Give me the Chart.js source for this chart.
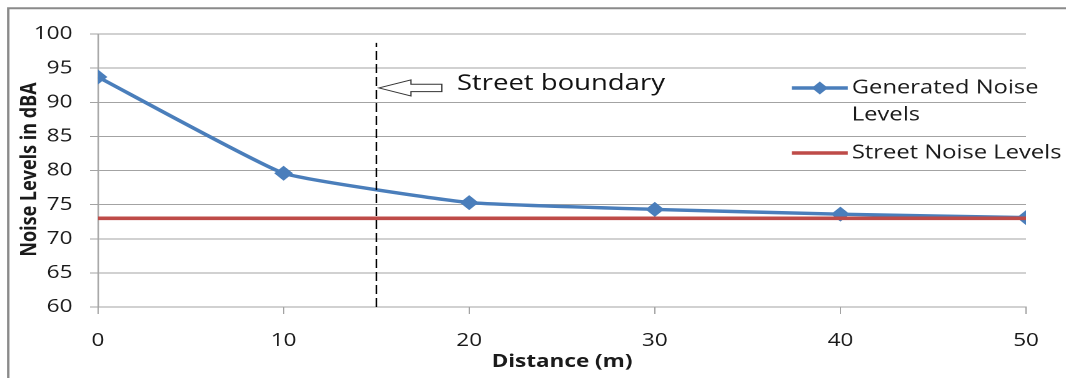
<!DOCTYPE html>
<html>
<head>
<meta charset="utf-8">
<script src="https://cdn.jsdelivr.net/npm/chart.js@4.4.1/dist/chart.umd.min.js"></script>
<style>
  html, body { margin: 0; padding: 0; background: #ffffff; overflow: hidden; }
  #wrap { width: 853px; height: 378px; transform: scaleX(1.2497); transform-origin: 0 0; }
</style>
</head>
<body>
<div id="wrap"><canvas id="noiseChart" width="853" height="378"></canvas></div>
<script>
// Distance from the source (m) and measured noise levels (dBA)
const distances = [0, 10, 20, 30, 40, 50];
const generatedNoise = [93.7, 79.6, 75.3, 74.3, 73.6, 73.1];
const streetNoise = [73, 73, 73, 73, 73, 73];

// Street boundary marker (distance and vertical extent in dBA)
const boundaryDistance = 15;
const boundarySpan = [60, 98.7];

// Axis tick labels
const xTickValues = [0, 10, 20, 30, 40, 50];
const yTickValues = [60, 65, 70, 75, 80, 85, 90, 95, 100];

const seriesNames = ['Generated Noise Levels', 'Street Noise Levels'];
const annotationText = 'Street boundary';
const xTitle = 'Distance (m)';
const yTitle = 'Noise Levels in dBA';

const BLUE = '#4A7EBB';
const RED = '#BE4B48';
const GRID = '#a3a3a3';
const TEXT = '#1a1a1a';
const FONT = "'Open Sans', 'DejaVu Sans', sans-serif";

const toPoints = (xs, ys) => xs.map((x, i) => ({ x: x, y: ys[i] }));

// Outer frame and white background
const framePlugin = {
  id: 'frame',
  beforeDraw(chart) {
    const ctx = chart.ctx;
    ctx.save();
    ctx.fillStyle = '#ffffff';
    ctx.fillRect(0, 0, chart.width, chart.height);
    ctx.strokeStyle = '#8a8a8a';
    ctx.lineWidth = 2;
    ctx.beginPath();
    ctx.moveTo(6.6, chart.height);
    ctx.lineTo(6.6, 8.3);
    ctx.lineTo(chart.width, 8.3);
    ctx.stroke();
    ctx.restore();
  }
};

// Axis titles
const titlesPlugin = {
  id: 'axisTitles',
  afterDraw(chart) {
    const ctx = chart.ctx;
    const area = chart.chartArea;
    ctx.save();
    ctx.fillStyle = TEXT;
    ctx.font = "bold 18px " + FONT;
    ctx.textAlign = 'center';
    ctx.textBaseline = 'alphabetic';
    ctx.fillText(xTitle, (area.left + area.right) / 2, 367);
    ctx.translate(29, (area.top + area.bottom) / 2 - 1);
    ctx.rotate(-Math.PI / 2);
    ctx.font = "bold 18px " + FONT;
    ctx.fillText(yTitle, 0, 0);
    ctx.restore();
  }
};

// Arrow and label pointing at the street boundary
const boundaryNotePlugin = {
  id: 'boundaryNote',
  afterDatasetsDraw(chart) {
    const ctx = chart.ctx;
    const xs = chart.scales.x, ys = chart.scales.y;
    const tipX = xs.getPixelForValue(boundaryDistance) + 2;
    const midY = ys.getPixelForValue(92.1);
    const headEnd = tipX + 25.6;
    const tailEnd = tipX + 50.4;
    ctx.save();
    ctx.fillStyle = '#ffffff';
    ctx.strokeStyle = '#333333';
    ctx.lineWidth = 1;
    ctx.beginPath();
    ctx.moveTo(tipX, midY);
    ctx.lineTo(headEnd, midY - 8);
    ctx.lineTo(headEnd, midY - 3.7);
    ctx.lineTo(tailEnd, midY - 3.7);
    ctx.lineTo(tailEnd, midY + 3.7);
    ctx.lineTo(headEnd, midY + 3.7);
    ctx.lineTo(headEnd, midY + 8);
    ctx.closePath();
    ctx.fill();
    ctx.stroke();
    ctx.fillStyle = '#111111';
    ctx.font = "22px " + FONT;
    ctx.textAlign = 'left';
    ctx.textBaseline = 'alphabetic';
    ctx.fillText(annotationText, tailEnd + 12, midY + 2);
    ctx.restore();
  }
};

// Legend drawn inside the plot, to the right
const legendPlugin = {
  id: 'sideLegend',
  afterDraw(chart) {
    const ctx = chart.ctx;
    const x0 = 633.6, x1 = 678.4, tx = 681.6;
    ctx.save();
    ctx.font = "19px " + FONT;
    ctx.fillStyle = TEXT;
    ctx.textAlign = 'left';
    ctx.textBaseline = 'middle';
    // Generated noise entry
    let y = 88;
    ctx.strokeStyle = BLUE;
    ctx.lineWidth = 3.5;
    ctx.beginPath(); ctx.moveTo(x0, y); ctx.lineTo(x1, y); ctx.stroke();
    ctx.fillStyle = BLUE;
    ctx.beginPath();
    const cx = (x0 + x1) / 2, r = 6.5;
    ctx.moveTo(cx - r, y); ctx.lineTo(cx, y - r); ctx.lineTo(cx + r, y); ctx.lineTo(cx, y + r);
    ctx.closePath(); ctx.fill();
    ctx.fillStyle = TEXT;
    ctx.fillText('Generated Noise', tx, y);
    ctx.fillText('Levels', tx, 115);
    // Street noise entry
    y = 153;
    ctx.strokeStyle = RED;
    ctx.lineWidth = 3.5;
    ctx.beginPath(); ctx.moveTo(x0, y); ctx.lineTo(x1, y); ctx.stroke();
    ctx.fillText(seriesNames[1], tx, y);
    ctx.restore();
  }
};

new Chart(document.getElementById('noiseChart'), {
  type: 'line',
  data: {
    datasets: [
      {
        label: 'Street boundary line',
        data: [{ x: boundaryDistance, y: boundarySpan[0] }, { x: boundaryDistance, y: boundarySpan[1] }],
        borderColor: '#000000',
        borderWidth: 1.1,
        borderDash: [9, 4],
        pointRadius: 0,
        order: 0
      },
      {
        label: seriesNames[1],
        data: toPoints(distances, streetNoise),
        borderColor: RED,
        borderWidth: 3.6,
        pointRadius: 0,
        order: 1
      },
      {
        label: seriesNames[0],
        data: toPoints(distances, generatedNoise),
        borderColor: BLUE,
        backgroundColor: BLUE,
        borderWidth: 3.4,
        tension: 0.12,
        pointStyle: 'rectRot',
        pointRadius: 7.5,
        pointBorderWidth: 0,
        pointBackgroundColor: BLUE,
        order: 2
      }
    ]
  },
  options: {
    responsive: false,
    animation: false,
    devicePixelRatio: 2,
    layout: { padding: { top: 34, right: 32, left: 0, bottom: 0 } },
    plugins: {
      legend: { display: false },
      tooltip: { enabled: false }
    },
    scales: {
      x: {
        type: 'linear',
        min: 0,
        max: 50,
        afterBuildTicks: (s) => { s.ticks = xTickValues.map(v => ({ value: v })); },
        afterFit: (s) => { s.height = 71; },
        grid: { drawOnChartArea: false, drawTicks: true, tickLength: 7, color: GRID, lineWidth: 1 },
        border: { display: true, color: GRID, width: 1 },
        ticks: { font: { family: FONT, size: 18 }, color: TEXT, padding: 16, maxRotation: 0 }
      },
      y: {
        min: 60,
        max: 100,
        afterBuildTicks: (s) => { s.ticks = yTickValues.map(v => ({ value: v })); },
        afterFit: (s) => { s.width = 78.4; },
        grid: { drawOnChartArea: true, drawTicks: true, tickLength: 6.4, color: GRID, lineWidth: 1 },
        border: { display: true, color: GRID, width: 1.2 },
        ticks: { font: { family: FONT, size: 18 }, color: TEXT, padding: 14 }
      }
    }
  },
  plugins: [framePlugin, titlesPlugin, boundaryNotePlugin, legendPlugin]
});
</script>
</body>
</html>
